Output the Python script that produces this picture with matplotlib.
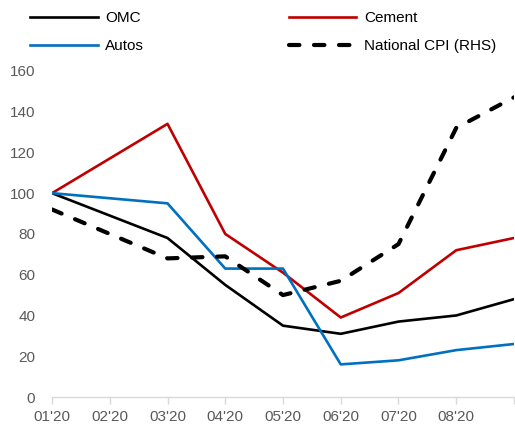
import matplotlib
matplotlib.use("Agg")
import matplotlib.pyplot as plt

plt.rcParams['font.family'] = ['Liberation Sans', 'DejaVu Sans']

# Month labels on the category axis (last slot has a tick but no label)
months = ["01'20", "02'20", "03'20", "04'20", "05'20", "06'20", "07'20", "08'20"]
# Observation positions (February has no observation)
obs_x = [0, 2, 3, 4, 5, 6, 7, 8]

omc = [100, 78, 55, 35, 31, 37, 40, 48]
cement = [100, 134, 80, 61, 39, 51, 72, 78]
autos = [100, 95, 63, 63, 16, 18, 23, 26]
cpi = [92, 68, 69, 50, 57, 75, 132, 147]

fig = plt.figure(figsize=(5.15, 4.32), dpi=100)
ax = fig.add_axes([0.101, 0.081, 0.897, 0.755])

l1, = ax.plot(obs_x, omc, color='black', lw=1.9, label='OMC')
l2, = ax.plot(obs_x, cement, color='#C00000', lw=1.9, label='Cement')
l3, = ax.plot(obs_x, autos, color='#0070C0', lw=1.9, label='Autos')

ax2 = ax.twinx()
l4, = ax2.plot(obs_x, cpi, color='black', lw=3, dashes=(2.5, 3.5),
               dash_capstyle='round', label='National CPI (RHS)')
ax2.set_ylim(0, 160)
ax2.set_yticks([])
for s in ax2.spines.values():
    s.set_visible(False)

ax.set_xlim(0, 8)
ax.set_ylim(0, 160)
ax.set_xticks(range(9))
ax.set_xticklabels(months + [''])
ax.set_yticks(range(0, 161, 20))
for s in ['left', 'right', 'top']:
    ax.spines[s].set_visible(False)
ax.spines['bottom'].set_color('#d9d9d9')
ax.spines['bottom'].set_linewidth(1.0)
ax.tick_params(axis='x', colors='#d9d9d9', length=5, width=1.0,
               labelcolor='#595959', labelsize=11, pad=4)
ax.tick_params(axis='y', length=0, labelcolor='#595959', labelsize=11, pad=12)

fig.legend(handles=[l1, l3, l2, l4], ncol=2, loc='upper left',
           bbox_to_anchor=(0.05, 0.984), frameon=False, fontsize=11,
           handlelength=4.4, handletextpad=0.5, columnspacing=9.5,
           labelspacing=0.88, borderpad=0.3, borderaxespad=0)

fig.savefig('out.png', dpi=100)
